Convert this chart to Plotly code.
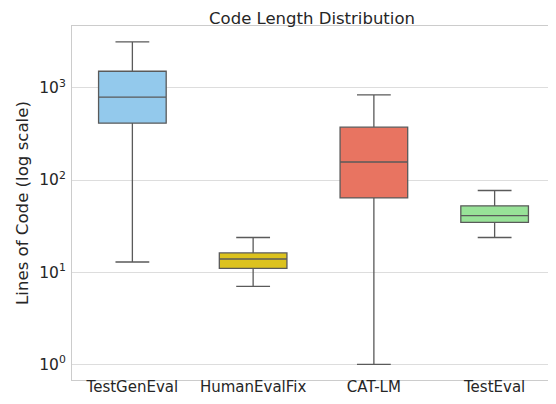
import plotly.graph_objects as go

# Load Data (box stats, lines of code)
datasets = ['TestGenEval', 'HumanEvalFix', 'CAT-LM', 'TestEval']
lower = [12.9, 7.0, 1.0, 23.8]
q1 = [414, 11.0, 64, 34.8]
median = [793, 13.9, 157, 41.2]
q3 = [1517, 16.2, 375, 52.5]
upper = [3155, 23.8, 839, 77]
colors = ['#93c9ec', '#dcc21e', '#e87461', '#98e298']

fig = go.Figure()
for i, name in enumerate(datasets):
    fig.add_trace(go.Box(
        x=[name], q1=[q1[i]], median=[median[i]], q3=[q3[i]],
        lowerfence=[lower[i]], upperfence=[upper[i]],
        fillcolor=colors[i], line=dict(color='#5a5a5a', width=1.3),
        whiskerwidth=0.5, boxpoints=False, name=name, showlegend=False,
        hoverinfo='skip'
    ))

# page has an 8px body margin, so the figure is 540x388
fig.update_layout(
    width=540, height=388,
    margin=dict(l=64, r=0, t=18, b=16),
    paper_bgcolor='white', plot_bgcolor='white',
    font=dict(family='DejaVu Sans', size=15.5, color='#262626'),
    title=dict(text='Code Length Distribution', x=0.563, xanchor='center',
               yref='container', y=0.974, yanchor='middle', font=dict(size=16.5)),
    boxmode='overlay', boxgap=0.2,
    showlegend=False,
)
fig.update_xaxes(
    type='category', range=[-0.5, 3.442], showgrid=False,
    showline=True, mirror=True, linecolor='#cccccc', linewidth=1,
    ticks='', tickfont=dict(size=15), automargin=False,
    ticklabelstandoff=-7
)
fig.update_yaxes(
    type='log', range=[-0.17, 3.672],
    tickvals=[1, 10, 100, 1000],
    ticktext=['10<sup>0</sup>', '10<sup>1</sup>', '10<sup>2</sup>', '10<sup>3</sup>'],
    showgrid=True, gridcolor='#dddddd', gridwidth=1,
    showline=True, mirror=True, linecolor='#cccccc', linewidth=1,
    zeroline=False, ticks='', tickfont=dict(size=15.5), automargin=False,
    ticklabelstandoff=2,
    title=dict(text='Lines of Code (log scale)', font=dict(size=16.6), standoff=6)
)

fig.write_html("out.html")
